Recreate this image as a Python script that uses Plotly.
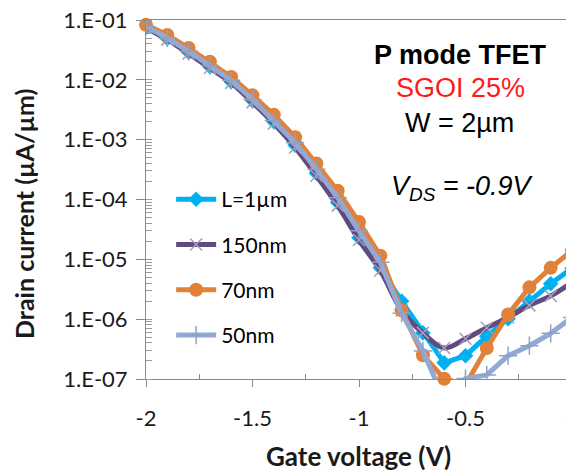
# %%
import plotly.graph_objects as go

# %%
gate_v = [-2.0, -1.9, -1.8, -1.7, -1.6, -1.5, -1.4, -1.3, -1.2, -1.1, -1.0,
          -0.9, -0.8, -0.7, -0.6, -0.5, -0.4, -0.3, -0.2, -0.1, 0.0]

id_L1um = [7.6e-2, 4.9e-2, 2.9e-2, 1.66e-2, 9.3e-3, 4.5e-3, 2.0e-3, 8.1e-4, 2.75e-4, 8.9e-5, 2.3e-5,
           7.2e-6, 2.0e-6, 5.9e-7, 1.86e-7, 2.45e-7, 5.2e-7, 1.02e-6, 2.0e-6, 3.9e-6, 7.1e-6]
id_150nm = [7.4e-2, 4.7e-2, 2.75e-2, 1.58e-2, 8.9e-3, 4.2e-3, 1.86e-3, 7.4e-4, 2.5e-4, 7.9e-5, 2.1e-5,
            6.5e-6, 1.4e-6, 5.9e-7, 3.3e-7, 4.7e-7, 7.2e-7, 1.07e-6, 1.7e-6, 2.45e-6, 4.1e-6]
id_70nm = [8.3e-2, 5.6e-2, 3.4e-2, 2.0e-2, 1.12e-2, 5.5e-3, 2.6e-3, 1.1e-3, 4.0e-4, 1.4e-4, 4.2e-5,
           1.15e-5, 1.4e-6, 2.5e-7, 1.01e-7, 8.0e-8, 3.3e-7, 1.2e-6, 3.4e-6, 7.2e-6, 1.4e-5]
id_50nm = [7.8e-2, 5.0e-2, 3.0e-2, 1.74e-2, 9.8e-3, 4.7e-3, 2.1e-3, 8.9e-4, 3.2e-4, 1.07e-4, 3.0e-5,
           8.9e-6, 1.26e-6, 2.95e-7, 4.5e-8, 1.02e-7, 1.17e-7, 2.45e-7, 3.6e-7, 5.8e-7, 1.07e-6]

y_tickvals = [1e-1, 1e-2, 1e-3, 1e-4, 1e-5, 1e-6, 1e-7]
y_ticktext = ['1.E-01', '1.E-02', '1.E-03', '1.E-04', '1.E-05', '1.E-06', '1.E-07']

# %%
ui_font = 'Lato, Open Sans, sans-serif'
note_font = 'Liberation Sans, Arial, sans-serif'
tick_font = dict(family=ui_font, size=22, color='#1a1a1a')

fig = go.Figure()

fig.add_trace(go.Scatter(
    x=gate_v, y=id_L1um, name='L=1\u00b5m', mode='lines+markers', legendgroup='a',
    line=dict(color='#00b0f0', width=5),
    marker=dict(symbol='diamond', size=12, color='#00b0f0')))
fig.add_trace(go.Scatter(
    x=gate_v, y=id_150nm, name='150nm', mode='lines+markers', legendgroup='b',
    line=dict(color='#604a80', width=5, shape='spline'),
    marker=dict(symbol='x-thin', size=12, line=dict(color='#a59fbb', width=1.5))))
fig.add_trace(go.Scatter(
    x=gate_v, y=id_70nm, name='70nm', mode='lines+markers', legendgroup='c',
    line=dict(color='#e0823a', width=5), cliponaxis=False,
    marker=dict(symbol='circle', size=14, color='#e0823a')))
fig.add_trace(go.Scatter(
    x=gate_v, y=id_50nm, name='50nm', mode='lines+markers', legendgroup='d',
    line=dict(color='#93a9d4', width=5),
    marker=dict(symbol='cross-thin', size=13, line=dict(color='#8ea2c8', width=1.5))))

# %%
notes = [
    (0.739, 0.903, '<b>P mode TFET</b>', 'black'),
    (0.738, 0.81, 'SGOI 25%', '#ff1a1a'),
    (0.737, 0.713, 'W = 2\u00b5m', 'black'),
    (0.744, 0.532, '<i>V<sub>DS</sub> = -0.9V</i>', 'black'),
]
for nx, ny, txt, col in notes:
    fig.add_annotation(x=nx, y=ny, xref='paper', yref='paper', xanchor='center', yanchor='middle',
                       showarrow=False, text=txt, font=dict(family=note_font, size=27, color=col))

# axis titles placed by hand (automargin is off so the plot box stays put)
fig.add_annotation(x=-0.286, y=0.46, xref='paper', yref='paper', xanchor='center', yanchor='middle',
                   showarrow=False, textangle=-90, text='<b>Drain current (\u00b5A/\u00b5m)</b>',
                   font=dict(family=ui_font, size=25, color='#1a1a1a'))
fig.add_annotation(x=0.498, y=-0.214, xref='paper', yref='paper', xanchor='center', yanchor='middle',
                   showarrow=False, text='<b>Gate voltage (V)</b>',
                   font=dict(family=ui_font, size=26, color='#1a1a1a'))

# %%
fig.update_layout(
    width=574, height=470,
    margin=dict(l=138, r=10, t=12, b=99),
    paper_bgcolor='white', plot_bgcolor='white',
    showlegend=True,
    legend=dict(x=0.059, y=0.557, xanchor='left', yanchor='top',
                font=dict(family=ui_font, size=21, color='black'),
                bgcolor='rgba(0,0,0,0)', tracegroupgap=15, itemwidth=40),
    xaxis=dict(
        range=[-2, 0], tickvals=[-2, -1.5, -1, -0.5, 0], ticktext=['-2', '-1.5', '-1', '-0.5', '0'],
        ticks='outside', ticklen=7, tickcolor='#8a8a8a', ticklabelstandoff=13,
        ticklabeloverflow='allow', automargin=False,
        minor=dict(tickvals=[-1.75, -1.25, -0.75, -0.25], ticks='inside', ticklen=5, tickcolor='#8a8a8a'),
        showline=True, linecolor='#8a8a8a', linewidth=1, mirror=True,
        showgrid=False, zeroline=False, tickfont=tick_font),
    yaxis=dict(
        type='log', range=[-7, -1], tickvals=y_tickvals, ticktext=y_ticktext,
        ticks='outside', ticklen=9, tickcolor='#8a8a8a', ticklabelstandoff=4,
        ticklabeloverflow='allow', automargin=False,
        minor=dict(dtick='D1', ticks='inside', ticklen=6, tickcolor='#9a9a9a'),
        showline=True, linecolor='#8a8a8a', linewidth=1, mirror=True,
        showgrid=False, zeroline=False, tickfont=tick_font),
)

fig.write_html("out.html")
